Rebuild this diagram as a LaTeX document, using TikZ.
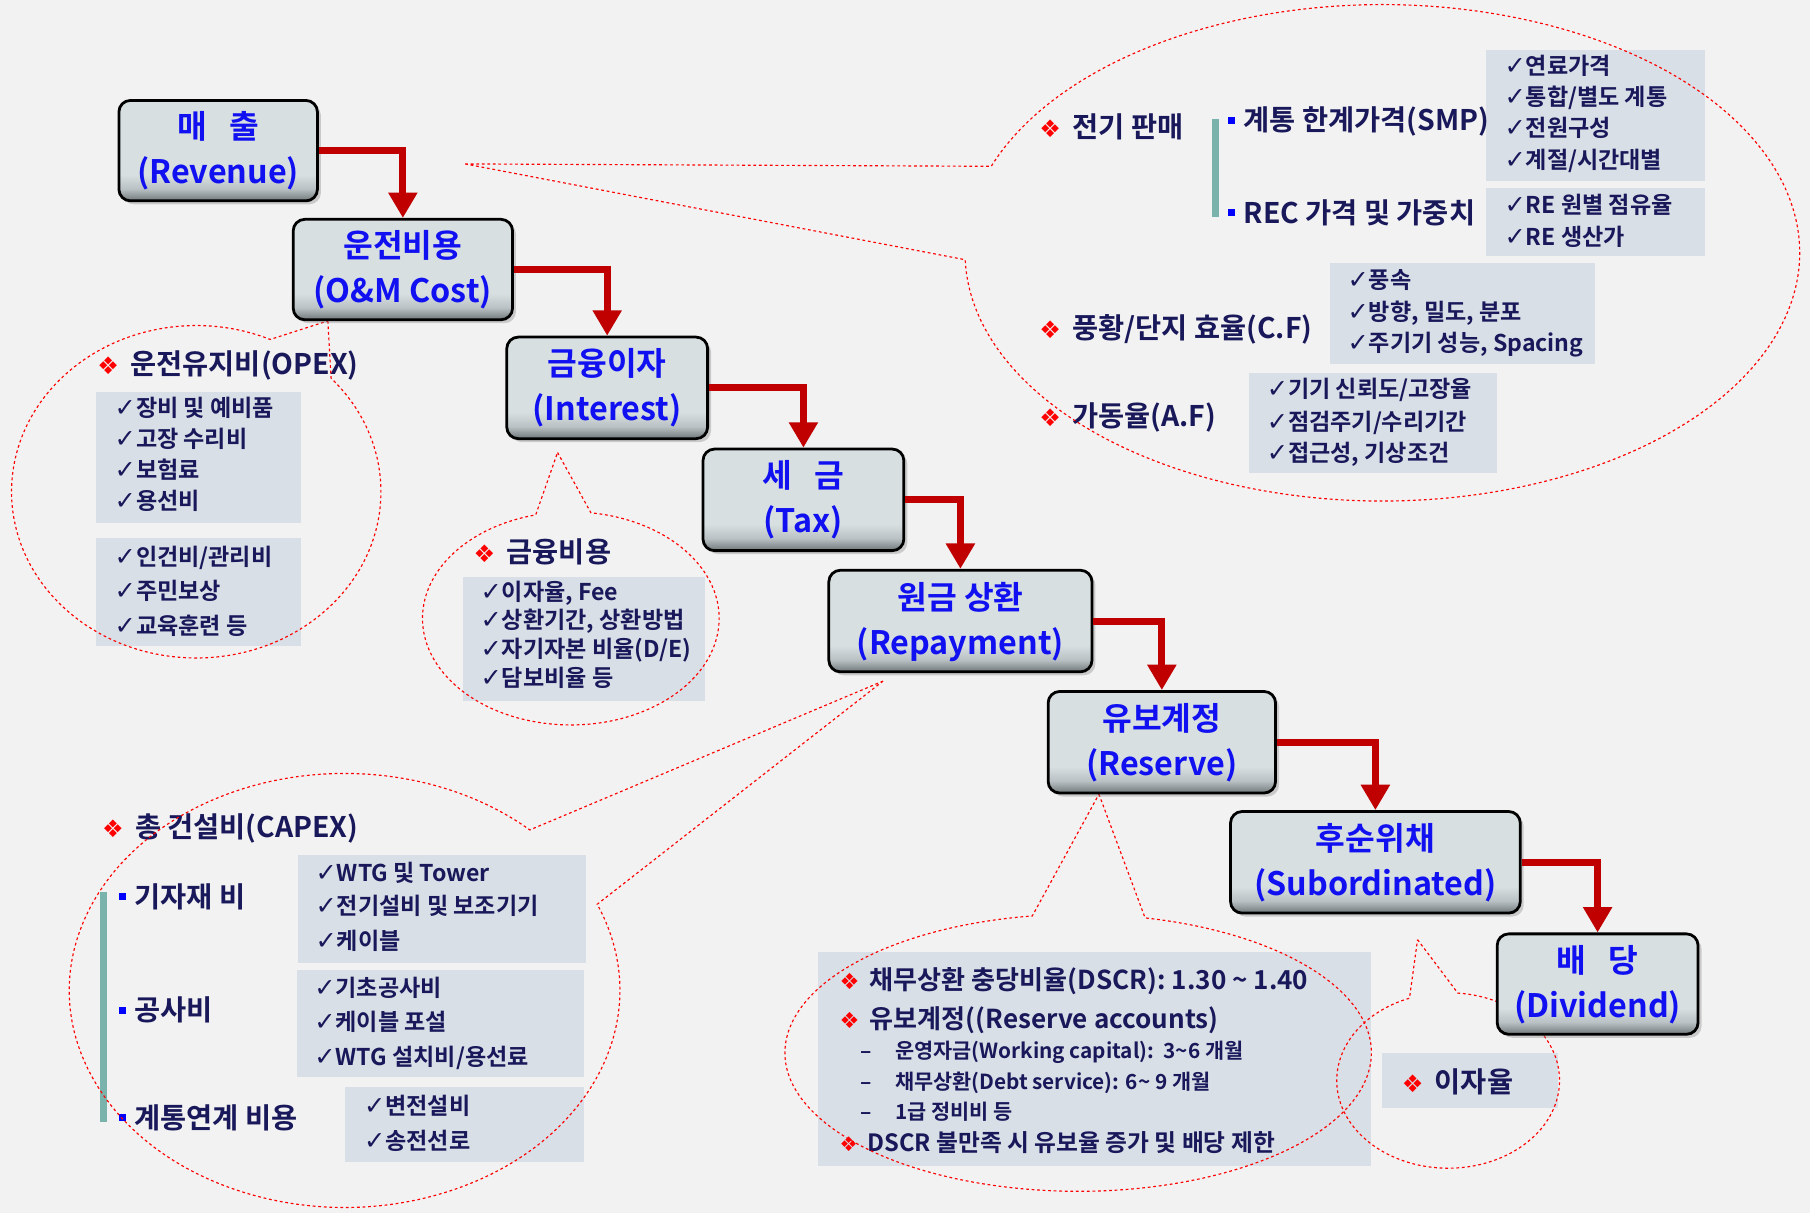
\documentclass[tikz,border=0pt]{standalone}
\usepackage{fontspec}
\usepackage{graphicx}
\setmainfont{Noto Sans CJK KR}[UprightFont=* Bold]
\newfontfamily\sym{DejaVu Sans}
\usetikzlibrary{calc,shadows,arrows.meta}
\definecolor{navy}{HTML}{18185A}
\definecolor{bblue}{HTML}{1010F0}
\definecolor{gbox}{HTML}{D8DFE6}
\definecolor{tealbar}{HTML}{7AB3AC}
\definecolor{darr}{HTML}{C00000}
\definecolor{bgc}{HTML}{F2F2F2}
\definecolor{mbT}{HTML}{D7DFE1}
\definecolor{mbM}{HTML}{B9C1C4}
\definecolor{mbB}{HTML}{6F7779}
\pgfdeclareverticalshading{mboxshade}{100bp}{color(0bp)=(mbB); color(25bp)=(mbB); color(31bp)=(mbM); color(38bp)=(mbT); color(100bp)=(mbT)}
\newcommand\ck{{\sym\bfseries\scalebox{1.1}{✓}}}
\newcommand\dia{{\sym\color{red}\scalebox{0.85}{❖}}\hspace{0.4em}}
\newcommand\mainbox[7]{%
 \node[mbx, minimum width=#4*0.5pt, minimum height=#5*0.5pt] (#1) at (#2,#3) {};
 \node[mtx] (#1a) at (#2,#3-21) {#6};
 \node[mtx] (#1b) at (#2,#3+18) {#7};}
\newcommand\T[5]{\node[#4] (#1) at (#2,#3) {#5};}
\newcommand\bubble[8]{%
 \draw[bub] (#7,#8) -- ($(#1,#2)+(#5:#3 and #4)$) arc[start angle=#5, end angle=#6, x radius=#3, y radius=#4] -- cycle;}
\newcommand\gb[4]{\fill[gbox] (#1,#2) rectangle (#3,#4);}
\newcommand\sq[2]{\fill[blue] (#1-3,#2-3) rectangle (#1+3,#2+3);}
\begin{document}
\begin{tikzpicture}[x=0.5pt,y=-0.5pt,
  mbx/.style={draw=black, line width=1.2pt, rounded corners=5pt, shade, shading=mboxshade,
    drop shadow={shadow xshift=1.5pt, shadow yshift=-1.5pt, opacity=0.35}, inner sep=0pt},
  mtx/.style={font=\fontsize{14}{16}\selectfont, text=bblue, anchor=base, yshift=-5.3pt, inner sep=0pt},
  hd/.style={font=\fontsize{12.3}{14}\selectfont, text=navy, anchor=base west, yshift=-4.7pt, inner sep=0pt},
  it/.style={font=\fontsize{10}{12}\selectfont, text=navy, anchor=base west, yshift=-3.8pt, inner sep=0pt},
  da/.style={font=\fontsize{11.3}{13}\selectfont, text=navy, anchor=base west, yshift=-4.3pt, inner sep=0pt},
  db/.style={font=\fontsize{9}{11}\selectfont, text=navy, anchor=base west, yshift=-3.4pt, inner sep=0pt},
  dc/.style={font=\fontsize{10.3}{12}\selectfont, text=navy, anchor=base west, yshift=-3.9pt, inner sep=0pt},
  bub/.style={draw=red, line width=0.5pt, dash pattern=on 1.2pt off 1.2pt},
  rarr/.style={draw=darr, line width=3pt, -{Triangle[length=11pt,width=12pt]}}]
\fill[bgc] (0,0) rectangle (1568,1051);
\useasboundingbox (0,0) rectangle (1568,1051);

% ---------- grey boxes ----------
\gb{83}{340}{261}{453}
\gb{83}{466}{261}{560}
\gb{401}{500}{611}{607}
\gb{258}{741}{508}{834}
\gb{257}{840}{506}{933}
\gb{299}{942}{506}{1007}
\gb{1287}{43}{1477}{157}
\gb{1287}{163}{1477}{222}
\gb{1152}{228}{1382}{315}
\gb{1082}{323}{1297}{410}
\gb{709}{825}{1188}{1010}
\gb{1197}{912}{1350}{960}

% ---------- teal bars and bullets ----------
\fill[tealbar] (87,773) rectangle (93,972);
\fill[tealbar] (1050,103) rectangle (1056,188);
\sq{106}{777}
\sq{106}{875}
\sq{106}{968}
\sq{1067}{104}
\sq{1067}{184}

% ---------- OPEX ----------
\T{opexh}{84}{315}{hd}{\dia 운전유지비(OPEX)}
\T{op1}{99}{353}{it}{\ck 장비 및 예비품}
\T{op2}{99}{380}{it}{\ck 고장 수리비}
\T{op3}{99}{407}{it}{\ck 보험료}
\T{op4}{99}{434}{it}{\ck 용선비}
\T{op5}{99}{482}{it}{\ck 인건비/관리비}
\T{op6}{99}{512}{it}{\ck 주민보상}
\T{op7}{99}{542}{it}{\ck 교육훈련 등}

% ---------- finance ----------
\T{finh}{410}{478}{hd}{\dia 금융비용}
\T{fi1}{416}{513}{it}{\ck 이자율, Fee}
\T{fi2}{416}{537}{it}{\ck 상환기간, 상환방법}
\T{fi3}{416}{562}{it}{\ck 자기자본 비율(D/E)}
\T{fi4}{416}{587}{it}{\ck 담보비율 등}

% ---------- CAPEX ----------
\T{caph}{88}{716}{hd}{\dia 총 건설비(CAPEX)}
\T{ca1}{116}{777}{hd}{기자재 비}
\T{ca2}{116}{875}{hd}{공사비}
\T{ca3}{116}{968}{hd}{계통연계 비용}
\T{cb1}{273}{756}{it}{\ck WTG 및 Tower}
\T{cb2}{273}{785}{it}{\ck 전기설비 및 보조기기}
\T{cb3}{273}{815}{it}{\ck 케이블}
\T{cb4}{272}{856}{it}{\ck 기초공사비}
\T{cb5}{272}{885}{it}{\ck 케이블 포설}
\T{cb6}{272}{915}{it}{\ck WTG 설치비/용선료}
\T{cb7}{315}{958}{it}{\ck 변전설비}
\T{cb8}{315}{988}{it}{\ck 송전선로}

% ---------- revenue factors ----------
\T{rvh}{900}{110}{hd}{\dia 전기 판매}
\T{rv1}{1077}{104}{hd}{계통 한계가격(SMP)}
\T{rv2}{1077}{184}{hd}{REC 가격 및 가중치}
\T{rs1}{1303}{57}{it}{\ck 연료가격}
\T{rs2}{1303}{84}{it}{\ck 통합/별도 계통}
\T{rs3}{1303}{111}{it}{\ck 전원구성}
\T{rs4}{1303}{138}{it}{\ck 계절/시간대별}
\T{rs5}{1303}{177}{it}{\ck RE 원별 점유율}
\T{rs6}{1303}{205}{it}{\ck RE 생산가}
\T{cfh}{900}{284}{hd}{\dia 풍황/단지 효율(C.F)}
\T{cf1}{1167}{242}{it}{\ck 풍속}
\T{cf2}{1167}{270}{it}{\ck 방향, 밀도, 분포}
\T{cf3}{1167}{297}{it}{\ck 주기기 성능, Spacing}
\T{afh}{900}{360}{hd}{\dia 가동율(A.F)}
\T{af1}{1097}{337}{it}{\ck 기기 신뢰도/고장율}
\T{af2}{1097}{365}{it}{\ck 점검주기/수리기간}
\T{af3}{1097}{392}{it}{\ck 접근성, 기상조건}

% ---------- DSCR ----------
\T{ds1}{727}{849}{da}{\dia 채무상환 충당비율(DSCR): 1.30 \textasciitilde\ 1.40}
\T{ds2}{727}{882}{da}{\dia 유보계정((Reserve accounts)}
\T{dd1}{745}{910}{db}{–}
\T{dd2}{745}{937}{db}{–}
\T{dd3}{745}{963}{db}{–}
\T{ds3}{775}{910}{db}{운영자금(Working capital):\ \ 3\textasciitilde 6 개월}
\T{ds4}{775}{937}{db}{채무상환(Debt service): 6\textasciitilde\ 9 개월}
\T{ds5}{775}{963}{db}{1급 정비비 등}
\T{ds6}{727}{990}{dc}{\dia DSCR 불만족 시 유보율 증가 및 배당 제한}
\T{irh}{1214}{937}{hd}{\dia 이자율}

% ---------- bubbles ----------
\bubble{1197.5}{219}{361.5}{215}{200.4}{538.4}{403}{142}
\bubble{170}{426}{160}{144}{316.9}{653.6}{284}{278}
\bubble{494.5}{535.7}{128.5}{92.3}{277.8}{616.3}{483}{392}
\bubble{298.5}{858}{238.5}{188}{336.6}{672.3}{765}{590}
\bubble{934}{912}{254}{120}{283.2}{621}{952}{688}
\bubble{1254.5}{936}{96.5}{76}{275}{609.7}{1228}{814}

% ---------- main boxes ----------
\mainbox{m1}{189}{130.5}{172}{87}{매\hspace{0.7em}출}{(Revenue)}
\mainbox{m2}{349}{233.5}{190}{87}{운전비용}{(O\&M Cost)}
\mainbox{m3}{526}{336}{174}{88}{금융이자}{(Interest)}
\mainbox{m4}{696}{433}{174}{88}{세\hspace{0.7em}금}{(Tax)}
\mainbox{m5}{832}{538}{228}{88}{원금 상환}{(Repayment)}
\mainbox{m6}{1006.5}{643}{197}{88}{유보계정}{(Reserve)}
\mainbox{m7}{1191.5}{747}{251}{88}{후순위채}{(Subordinated)}
\mainbox{m8}{1384}{852.5}{174}{87}{배\hspace{0.7em}당}{(Dividend)}

\draw[rarr] (m1.east) -| (m2.north);
\draw[rarr] (m2.east) -| (m3.north);
\draw[rarr] (m3.east) -| (m4.north);
\draw[rarr] (m4.east) -| (m5.north);
\draw[rarr] (m5.east) -| (m6.north);
\draw[rarr] (m6.east) -| (m7.north);
\draw[rarr] (m7.east) -| (m8.north);
\end{tikzpicture}
\end{document}
